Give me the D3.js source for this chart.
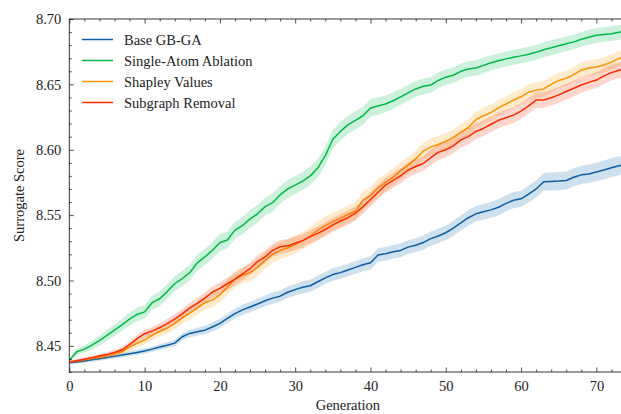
<!DOCTYPE html>
<html>
<head>
<meta charset="utf-8">
<script src="https://cdn.jsdelivr.net/npm/d3@7"></script>
<style>
  html, body { margin: 0; padding: 0; background: #fff; }
  svg { display: block; font-family: "Liberation Serif", "DejaVu Serif", serif; }
</style>
</head>
<body>
<svg id="chart" width="621" height="414"></svg>
<script>
// ---- data ----
const generations = d3.range(0, 75);
const seriesNames = ["Base GB-GA", "Single-Atom Ablation", "Shapley Values", "Subgraph Removal"];
const seriesColors = ["#0C5DA5", "#00B945", "#FF9500", "#FF2C00"];

const baseMean = [8.4370,8.4377,8.4384,8.4393,8.4402,8.4411,8.4420,8.4430,8.4440,8.4450,
  8.4460,8.4475,8.4491,8.4505,8.4521,8.4570,8.4595,8.4608,8.4620,8.4644,
  8.4672,8.4710,8.4747,8.4775,8.4797,8.4820,8.4845,8.4865,8.4880,8.4910,
  8.4930,8.4948,8.4960,8.4990,8.5020,8.5045,8.5060,8.5080,8.5100,8.5120,
  8.5135,8.5195,8.5205,8.5220,8.5230,8.5255,8.5270,8.5290,8.5320,8.5340,
  8.5365,8.5400,8.5440,8.5480,8.5510,8.5525,8.5540,8.5560,8.5590,8.5614,
  8.5625,8.5660,8.5700,8.5755,8.5757,8.5760,8.5765,8.5790,8.5808,8.5815,
  8.5830,8.5845,8.5862,8.5877,8.5890];
const baseStd = [0.0010,0.0012,0.0013,0.0014,0.0016,0.0016,0.0017,0.0017,0.0018,0.0020,
  0.0020,0.0021,0.0022,0.0023,0.0025,0.0027,0.0029,0.0030,0.0031,0.0034,
  0.0035,0.0036,0.0038,0.0039,0.0040,0.0042,0.0042,0.0043,0.0043,0.0044,
  0.0044,0.0046,0.0046,0.0047,0.0047,0.0048,0.0048,0.0048,0.0049,0.0049,
  0.0051,0.0052,0.0052,0.0052,0.0053,0.0053,0.0053,0.0055,0.0055,0.0056,
  0.0056,0.0057,0.0057,0.0059,0.0059,0.0060,0.0060,0.0061,0.0061,0.0062,
  0.0062,0.0064,0.0065,0.0068,0.0068,0.0069,0.0069,0.0069,0.0070,0.0070,
  0.0070,0.0072,0.0072,0.0072,0.0072];

const ablationMean = [8.4390,8.4455,8.4475,8.4505,8.4540,8.4580,8.4620,8.4660,8.4705,8.4740,
  8.4760,8.4830,8.4860,8.4915,8.4975,8.5015,8.5060,8.5135,8.5180,8.5230,
  8.5290,8.5310,8.5385,8.5420,8.5470,8.5510,8.5565,8.5595,8.5655,8.5700,
  8.5730,8.5760,8.5800,8.5860,8.5955,8.6080,8.6140,8.6190,8.6225,8.6260,
  8.6320,8.6335,8.6350,8.6375,8.6405,8.6435,8.6465,8.6485,8.6495,8.6530,
  8.6555,8.6570,8.6600,8.6618,8.6625,8.6645,8.6665,8.6680,8.6695,8.6707,
  8.6718,8.6730,8.6745,8.6765,8.6780,8.6795,8.6810,8.6825,8.6845,8.6860,
  8.6875,8.6882,8.6888,8.6898,8.6905];
const ablationStd = [0.0013,0.0023,0.0029,0.0034,0.0038,0.0042,0.0044,0.0047,0.0049,0.0051,
  0.0052,0.0053,0.0055,0.0056,0.0057,0.0059,0.0060,0.0061,0.0062,0.0064,
  0.0065,0.0065,0.0066,0.0066,0.0068,0.0068,0.0068,0.0069,0.0069,0.0069,
  0.0069,0.0069,0.0069,0.0070,0.0072,0.0072,0.0072,0.0070,0.0069,0.0068,
  0.0066,0.0065,0.0064,0.0062,0.0062,0.0061,0.0061,0.0060,0.0060,0.0060,
  0.0059,0.0059,0.0059,0.0059,0.0059,0.0059,0.0057,0.0057,0.0057,0.0057,
  0.0057,0.0057,0.0057,0.0057,0.0057,0.0056,0.0056,0.0056,0.0056,0.0056,
  0.0056,0.0056,0.0056,0.0056,0.0056];

const shapleyMean = [8.4376,8.4385,8.4395,8.4405,8.4415,8.4425,8.4440,8.4455,8.4490,8.4520,
  8.4545,8.4580,8.4610,8.4635,8.4670,8.4715,8.4750,8.4790,8.4830,8.4850,
  8.4890,8.4950,8.5010,8.5040,8.5060,8.5100,8.5155,8.5200,8.5230,8.5250,
  8.5275,8.5305,8.5340,8.5385,8.5420,8.5450,8.5475,8.5505,8.5530,8.5614,
  8.5650,8.5710,8.5750,8.5790,8.5840,8.5882,8.5930,8.5990,8.6022,8.6040,
  8.6065,8.6095,8.6135,8.6170,8.6230,8.6260,8.6285,8.6320,8.6350,8.6380,
  8.6405,8.6440,8.6456,8.6465,8.6500,8.6530,8.6546,8.6575,8.6610,8.6625,
  8.6633,8.6648,8.6670,8.6699,8.6710];
const shapleyStd = [0.0010,0.0012,0.0013,0.0016,0.0017,0.0020,0.0022,0.0025,0.0027,0.0030,
  0.0033,0.0035,0.0038,0.0040,0.0043,0.0046,0.0048,0.0051,0.0053,0.0056,
  0.0059,0.0060,0.0061,0.0062,0.0064,0.0065,0.0065,0.0066,0.0066,0.0068,
  0.0068,0.0068,0.0069,0.0069,0.0069,0.0069,0.0069,0.0069,0.0069,0.0068,
  0.0068,0.0068,0.0066,0.0066,0.0065,0.0065,0.0065,0.0064,0.0064,0.0064,
  0.0062,0.0062,0.0062,0.0061,0.0061,0.0061,0.0061,0.0060,0.0060,0.0060,
  0.0060,0.0060,0.0060,0.0060,0.0059,0.0059,0.0059,0.0059,0.0059,0.0059,
  0.0059,0.0059,0.0059,0.0059,0.0059];

const subgraphMean = [8.4376,8.4386,8.4398,8.4410,8.4422,8.4433,8.4450,8.4470,8.4510,8.4555,
  8.4593,8.4613,8.4640,8.4670,8.4705,8.4745,8.4790,8.4825,8.4865,8.4912,
  8.4940,8.4975,8.5010,8.5050,8.5090,8.5145,8.5180,8.5230,8.5258,8.5265,
  8.5285,8.5305,8.5335,8.5360,8.5390,8.5425,8.5455,8.5480,8.5515,8.5563,
  8.5620,8.5675,8.5730,8.5765,8.5800,8.5845,8.5872,8.5895,8.5940,8.5980,
  8.6000,8.6030,8.6075,8.6100,8.6140,8.6163,8.6195,8.6225,8.6245,8.6265,
  8.6295,8.6335,8.6380,8.6380,8.6398,8.6420,8.6445,8.6470,8.6495,8.6515,
  8.6533,8.6565,8.6590,8.6608,8.6620];
const subgraphStd = [0.0010,0.0012,0.0013,0.0014,0.0016,0.0017,0.0020,0.0021,0.0023,0.0026,
  0.0029,0.0031,0.0033,0.0035,0.0036,0.0039,0.0040,0.0042,0.0043,0.0044,
  0.0046,0.0047,0.0047,0.0048,0.0048,0.0049,0.0049,0.0049,0.0051,0.0051,
  0.0051,0.0051,0.0052,0.0052,0.0052,0.0052,0.0053,0.0053,0.0053,0.0055,
  0.0055,0.0055,0.0056,0.0056,0.0056,0.0057,0.0057,0.0057,0.0059,0.0059,
  0.0059,0.0059,0.0060,0.0060,0.0060,0.0060,0.0060,0.0060,0.0060,0.0060,
  0.0060,0.0060,0.0060,0.0060,0.0060,0.0060,0.0060,0.0060,0.0060,0.0060,
  0.0060,0.0060,0.0060,0.0060,0.0060];

const xTicks = [0, 10, 20, 30, 40, 50, 60, 70];
const yTicks = [8.45, 8.50, 8.55, 8.60, 8.65, 8.70];
const xLabel = "Generation";
const yLabel = "Surrogate Score";

// ---- layout ----
const svg = d3.select("#chart");
const pL = 69.3, pR = 626.5, pT = 19, pB = 372;
const x = d3.scaleLinear().domain([0, 74]).range([pL, pR]);
const y = d3.scaleLinear().domain([8.43, 8.70]).range([pB, pT]);

const series = [
  { name: seriesNames[0], color: seriesColors[0], mean: baseMean, std: baseStd },
  { name: seriesNames[1], color: seriesColors[1], mean: ablationMean, std: ablationStd },
  { name: seriesNames[2], color: seriesColors[2], mean: shapleyMean, std: shapleyStd },
  { name: seriesNames[3], color: seriesColors[3], mean: subgraphMean, std: subgraphStd }
];

svg.append("defs").append("clipPath").attr("id", "plotclip")
  .append("rect").attr("x", pL).attr("y", pT).attr("width", pR - pL).attr("height", pB - pT);

const plot = svg.append("g").attr("clip-path", "url(#plotclip)");

const area = d3.area()
  .x((d, i) => x(generations[i]))
  .y0(d => y(d[0] - d[1]))
  .y1(d => y(d[0] + d[1]));
const line = d3.line()
  .x((d, i) => x(generations[i]))
  .y(d => y(d));

series.forEach(s => {
  const pairs = s.mean.map((m, i) => [m, s.std[i]]);
  plot.append("path").attr("d", area(pairs))
    .attr("fill", s.color).attr("fill-opacity", 0.2).attr("stroke", "none");
  plot.append("path").attr("d", line(s.mean))
    .attr("fill", "none").attr("stroke", s.color).attr("stroke-width", 1.5)
    .attr("stroke-linejoin", "round");
});

// ---- axes ----
const axisColor = "#222";
const fontSize = "14.5px";

function styleAxis(g) {
  g.select(".domain").remove();
  g.selectAll(".tick line").attr("stroke", axisColor).attr("stroke-width", 0.8);
  g.selectAll(".tick text").attr("fill", "#222").style("font-size", fontSize)
    .style("font-family", "'Liberation Serif', serif");
}

const xMinor = d3.range(0, 75, 2).filter(v => v % 10 !== 0);
const yMinor = d3.range(0, 28).map(i => +(8.43 + i * 0.01).toFixed(2)).filter(v => Math.round(v * 100) % 5 !== 0);

svg.append("g").attr("transform", `translate(0,${pB})`)
  .call(d3.axisBottom(x).tickValues(xTicks).tickSize(-4.5).tickPadding(9).tickFormat(d3.format("d")))
  .call(styleAxis);
svg.append("g").attr("transform", `translate(0,${pB})`)
  .call(d3.axisBottom(x).tickValues(xMinor).tickSize(-2.5).tickFormat(""))
  .call(styleAxis);
svg.append("g").attr("transform", `translate(0,${pT})`)
  .call(d3.axisTop(x).tickValues(xTicks).tickSize(-4.5).tickFormat(""))
  .call(styleAxis);
svg.append("g").attr("transform", `translate(0,${pT})`)
  .call(d3.axisTop(x).tickValues(xMinor).tickSize(-2.5).tickFormat(""))
  .call(styleAxis);
svg.append("g").attr("transform", `translate(${pL},0)`)
  .call(d3.axisLeft(y).tickValues(yTicks).tickSize(-4.5).tickPadding(8).tickFormat(d3.format(".2f")))
  .call(styleAxis);
svg.append("g").attr("transform", `translate(${pL},0)`)
  .call(d3.axisLeft(y).tickValues(yMinor).tickSize(-2.5).tickFormat(""))
  .call(styleAxis);
svg.append("g").attr("transform", `translate(${pR},0)`)
  .call(d3.axisRight(y).tickValues(yTicks).tickSize(-4.5).tickFormat(""))
  .call(styleAxis);

svg.append("rect").attr("x", pL).attr("y", pT).attr("width", pR - pL).attr("height", pB - pT)
  .attr("fill", "none").attr("stroke", axisColor).attr("stroke-width", 0.9);

svg.append("text").attr("x", (pL + pR) / 2).attr("y", 410)
  .attr("text-anchor", "middle").style("font-size", fontSize).attr("fill", "#222").text(xLabel);
svg.append("text").attr("transform", `translate(24,${(pT + pB) / 2}) rotate(-90)`)
  .attr("text-anchor", "middle").style("font-size", fontSize).attr("fill", "#222").text(yLabel);

const legend = svg.append("g");
series.forEach((s, i) => {
  const ly = 39.5 + i * 21;
  legend.append("line").attr("x1", 82).attr("x2", 113).attr("y1", ly).attr("y2", ly)
    .attr("stroke", s.color).attr("stroke-width", 1.5);
  legend.append("text").attr("x", 124).attr("y", ly).attr("dy", "0.35em")
    .style("font-size", fontSize).attr("fill", "#222").text(s.name);
});
</script>
</body>
</html>
